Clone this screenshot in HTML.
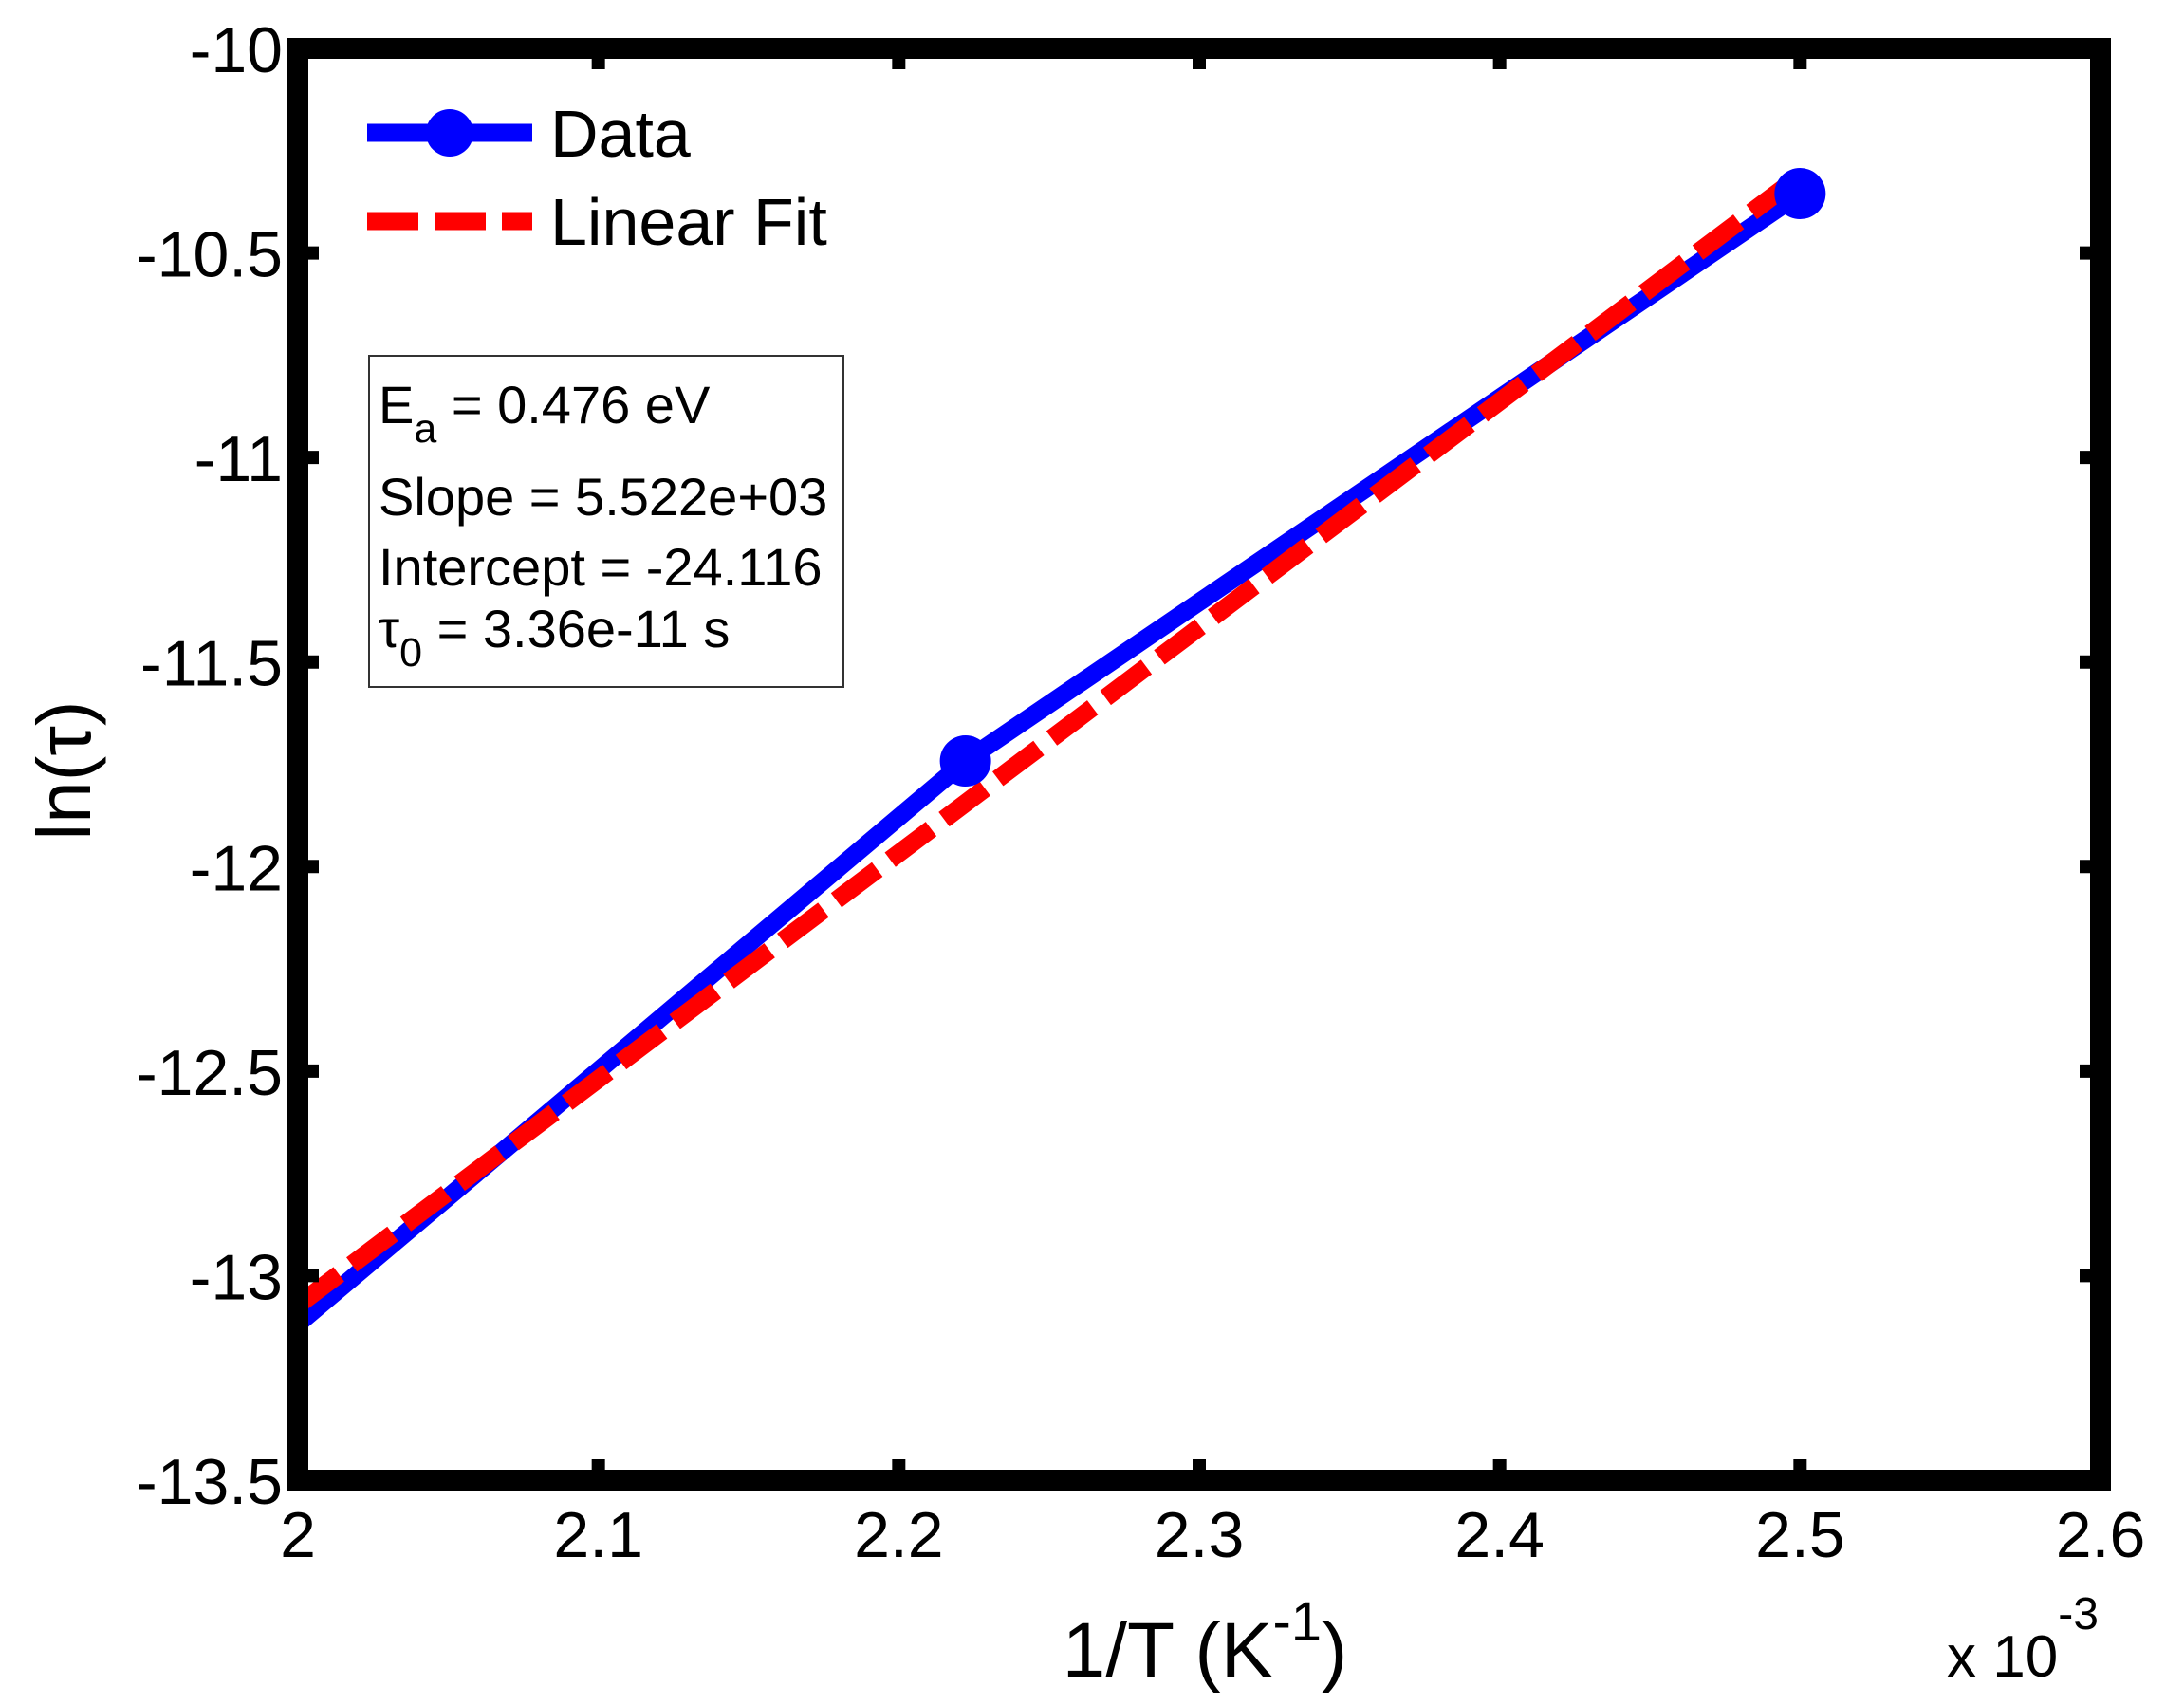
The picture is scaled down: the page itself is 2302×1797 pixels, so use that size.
<!DOCTYPE html>
<html><head><meta charset="utf-8">
<style>
html,body{margin:0;padding:0;background:#fff;}
svg{display:block;font-family:"Liberation Sans",Arial,sans-serif;}
</style></head>
<body>
<svg id="chart" width="2302" height="1797" viewBox="0 0 2302 1797" xmlns="http://www.w3.org/2000/svg">
<defs><clipPath id="plotclip"><rect x="325" y="62" width="1878" height="1487"/></clipPath></defs>
<rect x="0" y="0" width="2302" height="1797" fill="#fff"/>
<g id="marks" clip-path="url(#plotclip)"></g>
<g id="axes"></g>
<g id="legend">
  <line x1="387" y1="140" x2="561" y2="140" stroke="#0000ff" stroke-width="19"/>
  <circle cx="474" cy="140" r="25" fill="#0000ff"/>
  <text x="580" y="165" font-size="70">Data</text>
  <line x1="387" y1="233" x2="561" y2="233" stroke="#ff0000" stroke-width="19" stroke-dasharray="54,17"/>
  <text x="580" y="258" font-size="70">Linear Fit</text>
</g>
<g id="annotation">
  <rect x="389" y="375" width="500" height="349" fill="#fff" stroke="#333" stroke-width="2"/>
  <text x="399" y="446" font-size="56">E<tspan font-size="43" dy="20">a</tspan><tspan dy="-20"> = 0.476 eV</tspan></text>
  <text x="399" y="543" font-size="56">Slope = 5.522e+03</text>
  <text x="399" y="617" font-size="56">Intercept = -24.116</text>
  <text x="399" y="682" font-size="56">τ<tspan font-size="43" dy="20">0</tspan><tspan dy="-20"> = 3.36e-11 s</tspan></text>
</g>
<text x="1270" y="1767" font-size="82" text-anchor="middle">1/T (K<tspan font-size="58" dy="-38">-1</tspan><tspan dy="38">)</tspan></text>
<text x="2052" y="1767" font-size="62">x 10<tspan font-size="48" dy="-50">-3</tspan></text>
<text transform="translate(95,812) rotate(-90)" font-size="80" text-anchor="middle">ln(τ)</text>
</svg>
<script>
const xData = [2.0, 2.2222, 2.5];
const yData = [-13.118, -11.742, -10.355];
const xFit = [2.0, 2.5];
const yFit = [-13.072, -10.311];
const xTicks = [2.0, 2.1, 2.2, 2.3, 2.4, 2.5, 2.6];
const xTickLabels = ["2", "2.1", "2.2", "2.3", "2.4", "2.5", "2.6"];
const yTicks = [-10, -10.5, -11, -11.5, -12, -12.5, -13, -13.5];
const yTickLabels = ["-10", "-10.5", "-11", "-11.5", "-12", "-12.5", "-13", "-13.5"];

const NS = "http://www.w3.org/2000/svg";
const L = 314, R = 2214, T = 51, B = 1560;
const xMin = 2.0, xMax = 2.6, yMin = -13.5, yMax = -10;
function sx(v){ return L + (v - xMin) / (xMax - xMin) * (R - L); }
function sy(v){ return B - (v - yMin) / (yMax - yMin) * (B - T); }
function mk(tag, attrs, parent){
  const e = document.createElementNS(NS, tag);
  for (const k in attrs) e.setAttribute(k, attrs[k]);
  parent.appendChild(e);
  return e;
}
const marks = document.getElementById("marks");
const axes = document.getElementById("axes");

const dPts = xData.map((x,i)=> sx(x)+","+sy(yData[i])).join(" ");
const dl = mk("polyline", {points:dPts, fill:"none", stroke:"#0000ff", "stroke-width":19, "stroke-linejoin":"round"}, marks);


const fPts = xFit.map((x,i)=> sx(x)+","+sy(yFit[i])).join(" ");
const fl = mk("polyline", {points:fPts, fill:"none", stroke:"#ff0000", "stroke-width":19, "stroke-dasharray":"54,17"}, marks);


xData.forEach((x,i)=>{
  if (x <= xMin) return; // marker on the axis edge is hidden in the reference
  const c = mk("circle", {cx:sx(x), cy:sy(yData[i]), r:27, fill:"#0000ff"}, marks);
  
  
});

const fr = mk("rect", {x:L, y:T, width:R-L, height:B-T, fill:"none", stroke:"#000", "stroke-width":22}, axes);



xTicks.forEach((v,i)=>{
  const x = sx(v);
  const t1 = mk("line", {x1:x, y1:B, x2:x, y2:B-22, stroke:"#000", "stroke-width":14}, axes);
  
  
  const t2 = mk("line", {x1:x, y1:T, x2:x, y2:T+22, stroke:"#000", "stroke-width":14}, axes);
  
  
  const tx = mk("text", {x:x, y:1641, "font-size":68, "text-anchor":"middle"}, axes);
  tx.textContent = xTickLabels[i];
  
  
});
yTicks.forEach((v,i)=>{
  const y = sy(v);
  const t1 = mk("line", {x1:L, y1:y, x2:L+22, y2:y, stroke:"#000", "stroke-width":14}, axes);
  
  
  const t2 = mk("line", {x1:R, y1:y, x2:R-22, y2:y, stroke:"#000", "stroke-width":14}, axes);
  
  
  const ty = mk("text", {x:298, y:y+25, "font-size":68, "text-anchor":"end"}, axes);
  ty.textContent = yTickLabels[i];
  
  
});
</script>
</body></html>
